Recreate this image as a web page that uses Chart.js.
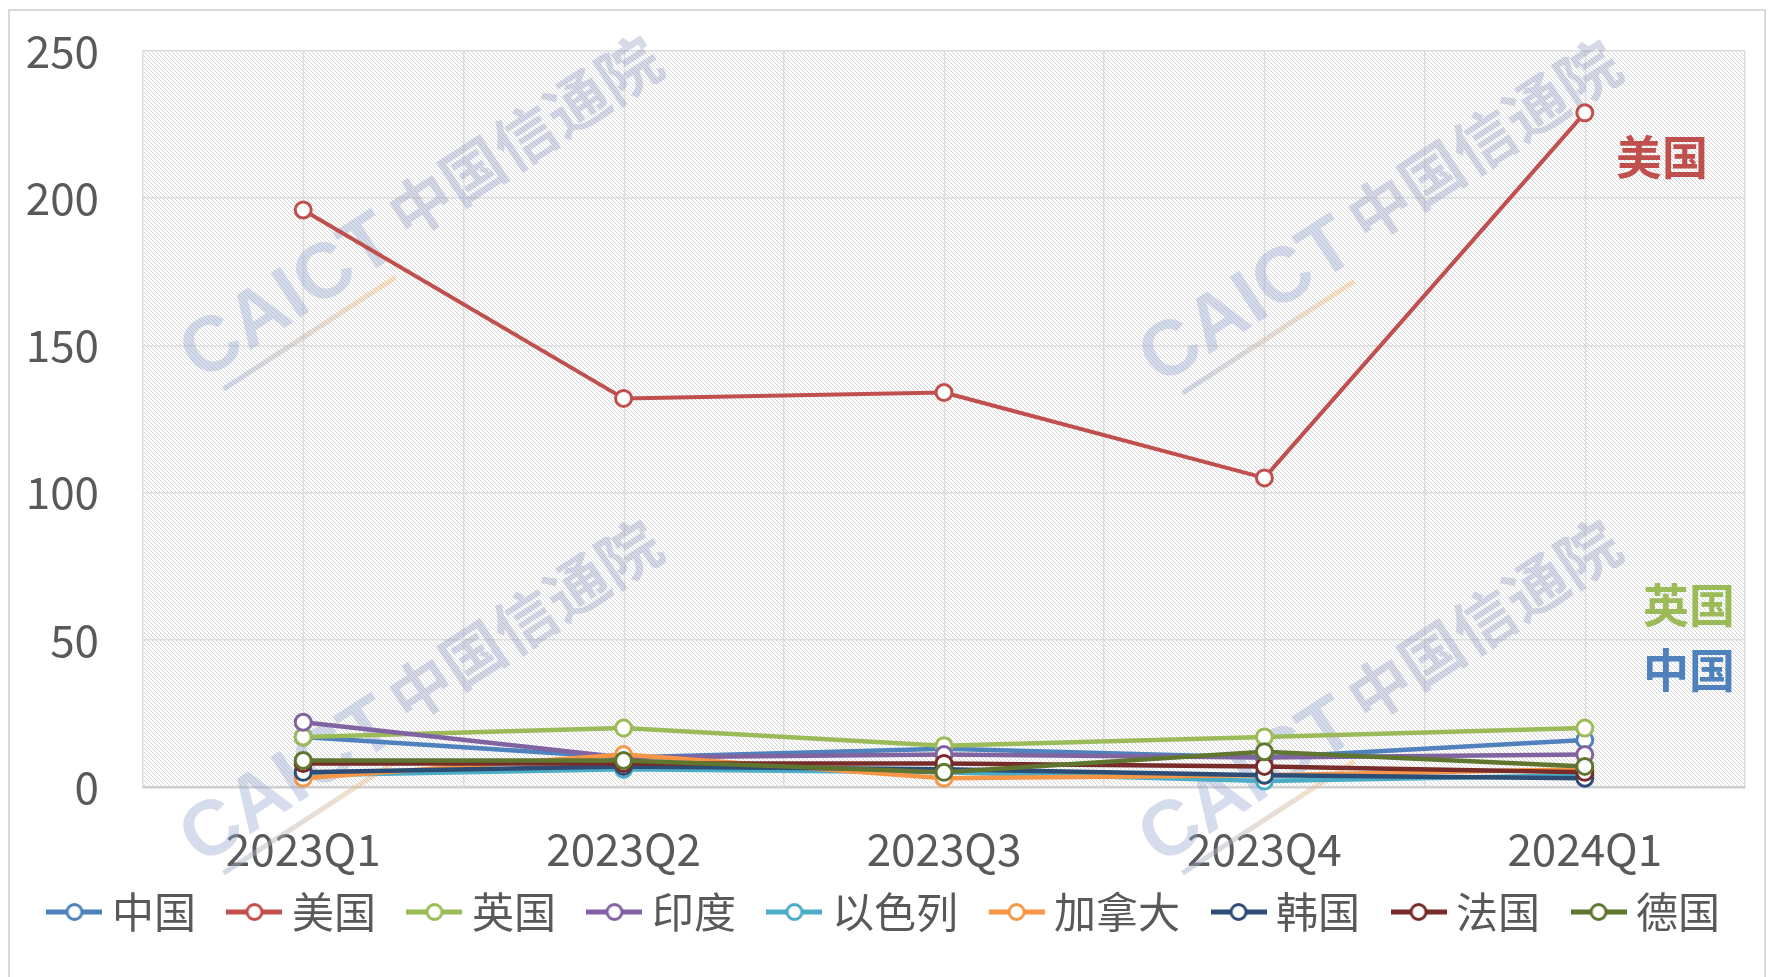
<!DOCTYPE html>
<html><head><meta charset="utf-8">
<script src="https://cdn.jsdelivr.net/npm/chart.js@4.4.1/dist/chart.umd.min.js"></script>
<style>html,body{margin:0;padding:0;background:#fff;} #wrap{width:1768px;height:977px;position:relative;}</style>
</head><body><div id="wrap"><canvas id="c" width="1768" height="977"></canvas></div>
<script>
const categories = ['2023Q1', '2023Q2', '2023Q3', '2023Q4', '2024Q1'];
const seriesNames = ['中国', '美国', '英国', '印度', '以色列', '加拿大', '韩国', '法国', '德国'];
const china   = [17, 10, 13, 10, 16];
const usa     = [196, 132, 134, 105, 229];
const uk      = [17, 20, 14, 17, 20];
const india   = [22, 10, 11, 10, 11];
const israel  = [4, 6, 5, 2, 4];
const canada  = [3, 11, 3, 4, 6];
const korea   = [5, 7, 6, 4, 3];
const france  = [8, 8, 8, 7, 5];
const germany = [9, 9, 5, 12, 7];
const yTicks = [0, 50, 100, 150, 200, 250];
const calloutLabels = ['美国', '英国', '中国'];
const calloutValues = [214, 62, 40];

const seriesValues = [china, usa, uk, india, israel, canada, korea, france, germany];
const colors = ['#4F81BD', '#C0504D', '#9BBB59', '#8064A2', '#4BACC6', '#F79646', '#2C4D75', '#772C2A', '#5F7530'];
const FONT = '"Noto Sans CJK SC", "Noto Sans", sans-serif';

function makeMarker(color) {
  const c = document.createElement('canvas');
  c.width = 56; c.height = 22;
  const g = c.getContext('2d');
  g.strokeStyle = color; g.lineWidth = 5; g.lineCap = 'butt';
  g.beginPath(); g.moveTo(0, 11); g.lineTo(56, 11); g.stroke();
  g.beginPath(); g.arc(28, 11, 7.5, 0, Math.PI * 2);
  g.fillStyle = '#fff'; g.fill(); g.lineWidth = 3; g.stroke();
  return c;
}
const markers = colors.map(makeMarker);

function makePattern(ctx) {
  const p = document.createElement('canvas');
  p.width = 4; p.height = 4;
  const g = p.getContext('2d');
  g.fillStyle = '#ffffff'; g.fillRect(0, 0, 4, 4);
  g.fillStyle = '#d4d4d4';
  for (let y = 0; y < 4; y++) { g.fillRect(y % 4, y, 1, 1); }
  return ctx.createPattern(p, 'repeat');
}

function drawWatermark(ctx, cx, cy) {
  ctx.save();
  ctx.translate(cx, cy);
  ctx.rotate(-33 * Math.PI / 180);
  ctx.textBaseline = 'alphabetic';
  ctx.textAlign = 'left';
  ctx.font = 'bold 78px "Liberation Sans", Arial, sans-serif';
  ctx.fillStyle = 'rgba(150,170,210,0.40)';
  ctx.fillText('CAICT', -290, 30);
  ctx.font = 'bold 62px ' + FONT;
  ctx.fillStyle = 'rgba(140,150,190,0.36)';
  ctx.fillText('中国信通院', -40, 24);
  const grad = ctx.createLinearGradient(-280, 0, -70, 0);
  grad.addColorStop(0, 'rgba(150,170,210,0.45)');
  grad.addColorStop(1, 'rgba(250,190,120,0.45)');
  ctx.strokeStyle = grad; ctx.lineWidth = 5;
  ctx.beginPath(); ctx.moveTo(-275, 48); ctx.lineTo(-70, 48); ctx.stroke();
  ctx.restore();
}

const bgPlugin = {
  id: 'bg',
  afterLayout(chart) {
    const lg = chart.legend;
    if (lg) { const shift = 33; lg.top -= shift; lg.bottom -= shift; }
  },
  beforeDraw(chart) {
    const ctx = chart.ctx, ca = chart.chartArea;
    ctx.save();
    ctx.fillStyle = '#fff';
    ctx.fillRect(0, 0, chart.width, chart.height);
    ctx.strokeStyle = '#d9d9d9'; ctx.lineWidth = 2;
    ctx.strokeRect(9, 10, 1756, 990);
    ctx.fillStyle = makePattern(ctx);
    ctx.fillRect(ca.left, ca.top, ca.right - ca.left, ca.bottom - ca.top);
    ctx.restore();
  },
  beforeDatasetsDraw(chart) {
    const ctx = chart.ctx, ca = chart.chartArea, xs = chart.scales.x;
    ctx.save();
    ctx.strokeStyle = '#dcdcdc'; ctx.lineWidth = 1.5;
    categories.forEach((c, i) => {
      const px = Math.round(xs.getPixelForValue(i)) + 0.5;
      ctx.beginPath(); ctx.moveTo(px, ca.top); ctx.lineTo(px, ca.bottom); ctx.stroke();
    });
    drawWatermark(ctx, ca.left + 285, ca.top + 148);
    drawWatermark(ctx, ca.left + 1244, ca.top + 152);
    drawWatermark(ctx, ca.left + 285, ca.top + 632);
    drawWatermark(ctx, ca.left + 1244, ca.top + 632);
    ctx.restore();
  },
  afterDatasetsDraw(chart) {
    const ctx = chart.ctx, ca = chart.chartArea, ys = chart.scales.y;
    ctx.save();
    ctx.font = 'bold 46px ' + FONT;
    ctx.textAlign = 'right'; ctx.textBaseline = 'middle';
    const rightOffsets = [37, 10, 10];
    const cols = [colors[1], colors[2], colors[0]];
    calloutLabels.forEach((t, i) => {
      ctx.fillStyle = cols[i];
      ctx.fillText(t, ca.right - rightOffsets[i], ys.getPixelForValue(calloutValues[i]));
    });
    ctx.restore();
  }
};

const datasets = seriesNames.map((name, i) => ({
  label: name,
  data: seriesValues[i],
  borderColor: colors[i],
  backgroundColor: colors[i],
  borderWidth: i === 1 ? 4 : 4.5,
  pointRadius: 8,
  pointHoverRadius: 8,
  pointBorderWidth: 3,
  pointBackgroundColor: '#ffffff',
  pointBorderColor: colors[i],
  borderJoinStyle: 'round',
  borderCapStyle: 'round',
  tension: 0,
  order: seriesNames.length - i,
  clip: false,
  yAxisID: 'y'
}));

new Chart(document.getElementById('c'), {
  type: 'line',
  data: { labels: categories, datasets },
  options: {
    responsive: false,
    devicePixelRatio: 1,
    animation: false,
    layout: { padding: { left: 10, right: 0, top: 51, bottom: 1 } },
    plugins: {
      tooltip: { enabled: false },
      legend: {
        position: 'bottom',
        labels: {
          usePointStyle: true,
          pointStyleWidth: 33,
          padding: 42,
          color: '#595959',
          font: { size: 42, family: FONT },
          generateLabels(chart) {
            return chart.data.datasets.map((ds, i) => ({
              text: ds.label,
              fillStyle: colors[i],
              strokeStyle: colors[i],
              lineWidth: 0,
              pointStyle: markers[i],
              hidden: !chart.isDatasetVisible(i),
              datasetIndex: i,
              fontColor: '#595959'
            }));
          }
        }
      }
    },
    scales: {
      x: {
        offset: true,
        grid: { display: true, offset: true, color: '#dcdcdc', lineWidth: 1.5, drawTicks: false },
        border: { display: true, color: '#d0d0d0', width: 2.5 },
        ticks: { color: '#595959', font: { size: 44, family: FONT }, padding: 36, maxRotation: 0 },
        afterFit(s) { s.height = 95; }
      },
      y: {
        min: 0, max: 250,
        position: 'left',
        afterBuildTicks(s) { s.ticks = yTicks.map(v => ({ value: v })); },
        grid: { color: '#dcdcdc', lineWidth: 1.5, drawTicks: false },
        border: { display: false },
        ticks: { color: '#595959', font: { size: 44, family: FONT }, padding: 44 },
        afterFit(s) { s.width = 133; s.paddingTop = 20; s.paddingBottom = 20; }
      },
      y2: {
        type: 'linear',
        position: 'right',
        display: true,
        grid: { display: false, drawTicks: false },
        border: { display: false },
        ticks: { display: false },
        afterFit(s) { s.width = 23; s.paddingTop = 0; s.paddingBottom = 0; }
      }
    }
  },
  plugins: [bgPlugin]
});
</script></body></html>
